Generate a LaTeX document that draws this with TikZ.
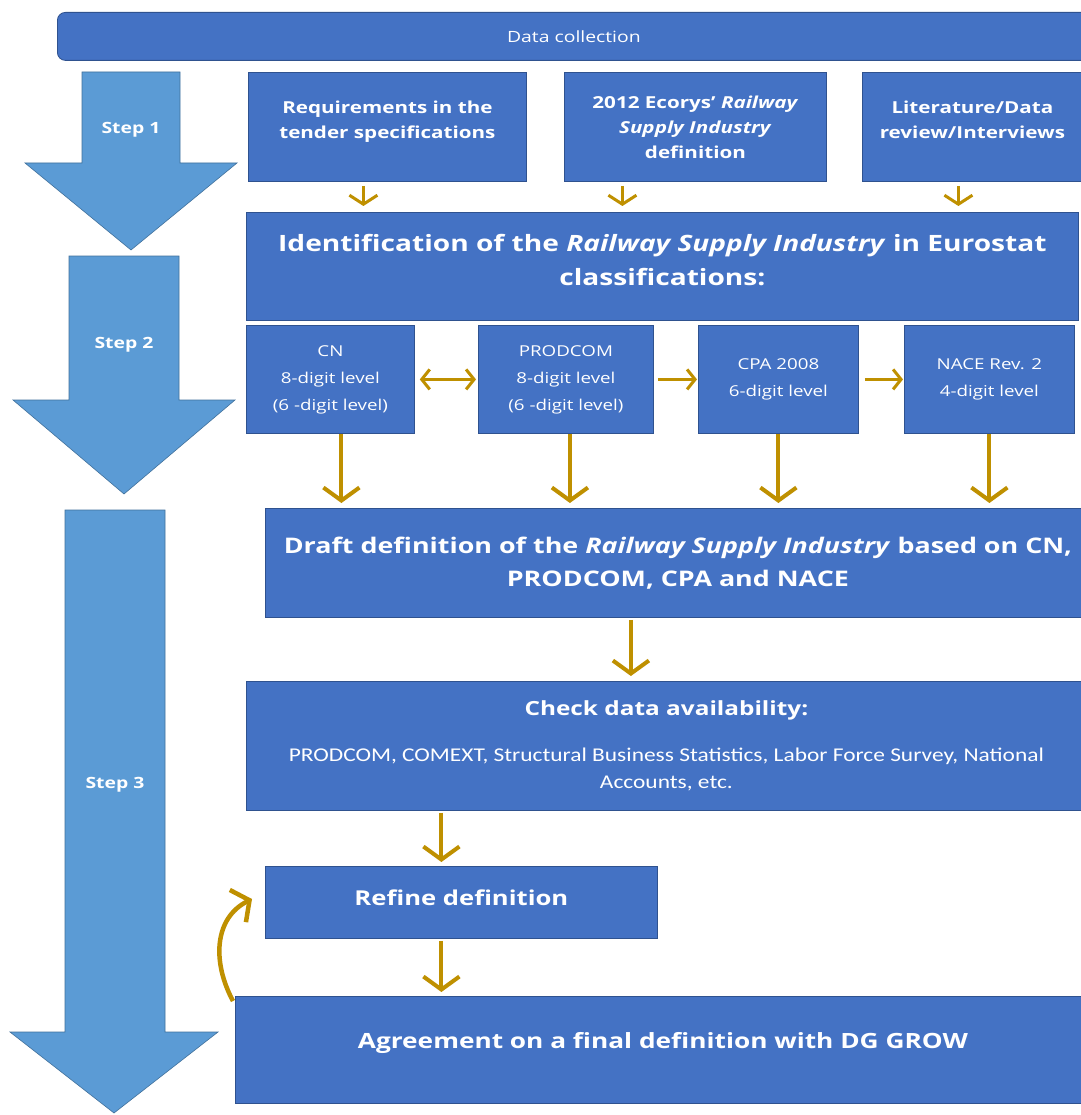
\documentclass[tikz,border=0pt]{standalone}
\usepackage{fontspec}
\setmainfont{Open Sans}[FakeStretch=1.25]
\newfontfamily\carl{Carlito}[FakeStretch=1.2]
\usetikzlibrary{arrows.meta}
\definecolor{boxblue}{HTML}{4472C4}
\definecolor{boxedge}{HTML}{2F528F}
\definecolor{stepblue}{HTML}{5B9BD5}
\definecolor{stepedge}{HTML}{41719C}
\definecolor{gold}{HTML}{BF9000}
\begin{document}
\begin{tikzpicture}[x=1pt,y=-1pt,
  box/.style={draw=boxedge, line width=0.8pt, fill=boxblue, text=white, align=center, anchor=north west, inner sep=2pt},
  stepshape/.style={fill=stepblue, draw=stepedge, line width=0.6pt},
  steplabel/.style={text=white, font=\bfseries\fontsize{15.5}{18}\selectfont},
  flow/.style={draw=gold, line width=4pt, -{Straight Barb[length=13pt,width=36pt]}},
  smallflow/.style={draw=gold, line width=3pt, -{Straight Barb[length=9pt,width=28pt]}},
  sideflow/.style={draw=gold, line width=3pt, -{Straight Barb[length=8pt,width=20pt]}},
  bothflow/.style={draw=gold, line width=3pt, {Straight Barb[length=8pt,width=20pt]}-{Straight Barb[length=8pt,width=20pt]}},
  curveflow/.style={draw=gold, line width=4.5pt, -{Straight Barb[length=13pt,width=36pt]}},
  txtA/.style={font=\bfseries\fontsize{16.5}{25}\selectfont},
  txtB/.style={font=\bfseries\fontsize{21.5}{33}\selectfont},
  txtC/.style={font=\fontsize{15}{27}\selectfont}
]
\useasboundingbox[fill=white] (0,0) rectangle (1080,1115);

% step arrows
\path[stepshape] (82,72) -- (180,72) -- (180,163) -- (237,163) -- (131,250) -- (25,163) -- (82,163) -- cycle;
\node[steplabel] (s1) at (131,130) {Step 1};
\path[stepshape] (69,256) -- (179,256) -- (179,400) -- (235,400) -- (124,494) -- (13,400) -- (69,400) -- cycle;
\node[steplabel] (s2) at (124,345) {Step 2};
\path[stepshape] (65,510) -- (165,510) -- (165,1032) -- (218,1032) -- (114,1113) -- (10,1032) -- (65,1032) -- cycle;
\node[steplabel] (s3) at (115,785) {Step 3};

% boxes
\node[box, rounded corners=8pt, minimum width=1033pt, minimum height=48pt, font=\fontsize{15.5}{18}\selectfont] (dc) at (57,12) {Data collection};
\node[box, txtA, minimum width=278pt, minimum height=109pt] (req) at (248,72) {Requirements in the\\tender specifications\\[-10pt]\mbox{}};
\node[box, txtA, minimum width=262pt, minimum height=109pt] (eco) at (564,72) {2012 Ecorys’ \textit{Railway}\\\textit{Supply Industry}\\definition};
\node[box, txtA, minimum width=220pt, minimum height=109pt] (lit) at (862,72) {Literature/Data\\review/Interviews\\[-10pt]\mbox{}};
\node[box, font=\bfseries\fontsize{22.5}{34}\selectfont, minimum width=832pt, minimum height=108pt] (ident) at (246,212) {Identification of the \textit{Railway Supply Industry} in Eurostat\\classifications:\\[-20pt]\mbox{}};
\node[box, txtC, minimum width=168pt, minimum height=108pt] (cn) at (246,325) {CN\\8-digit level\\(6 -digit level)};
\node[box, txtC, minimum width=175pt, minimum height=108pt] (prod) at (478,325) {PRODCOM\\8-digit level\\(6 -digit level)};
\node[box, txtC, minimum width=160pt, minimum height=108pt] (cpa) at (698,325) {CPA 2008\\6-digit level};
\node[box, txtC, minimum width=170pt, minimum height=108pt] (nace) at (904,325) {NACE Rev. 2\\4-digit level};
\node[box, txtB, minimum width=825pt, minimum height=109pt] (draft) at (265,508) {Draft definition of the \textit{Railway Supply Industry} based on CN,\\PRODCOM, CPA and NACE};
\node[box, font=\carl\fontsize{19.5}{27}\selectfont, minimum width=840pt, minimum height=129pt] (check) at (246,681) {{\rmfamily\bfseries\fontsize{19.5}{22}\selectfont Check data availability:}\\[19pt]PRODCOM, COMEXT, Structural Business Statistics, Labor Force Survey, National\\Accounts, etc.};
\node[box, font=\bfseries\fontsize{20.5}{24}\selectfont, minimum width=392pt, minimum height=72pt] (refine) at (265,866) {Refine definition\\[-14pt]\mbox{}};
\node[box, font=\bfseries\fontsize{21}{24}\selectfont, minimum width=855pt, minimum height=107pt] (agree) at (235,996) {Agreement on a final definition with DG GROW\\[-6pt]\mbox{}};

% connectors
\draw[smallflow, shorten <=4pt, shorten >=6pt] ([xshift=-24pt]req.south) -- ([xshift=-24pt]req.south |- ident.north);
\draw[smallflow, shorten <=4pt, shorten >=6pt] ([xshift=-73pt]eco.south) -- ([xshift=-73pt]eco.south |- ident.north);
\draw[smallflow, shorten <=4pt, shorten >=6pt] ([xshift=-14pt]lit.south) -- ([xshift=-14pt]lit.south |- ident.north);

\draw[bothflow, shorten <=5pt, shorten >=2pt] (cn.east) -- (prod.west);
\draw[sideflow, shorten <=4pt, shorten >=1pt] (prod.east) -- (cpa.west);
\draw[sideflow, shorten <=6pt, shorten >=1pt] (cpa.east) -- (nace.west);

\draw[flow, shorten >=5pt] ([xshift=11pt]cn.south) -- ([xshift=11pt]cn.south |- draft.north);
\draw[flow, shorten >=5pt] ([xshift=4pt]prod.south) -- ([xshift=4pt]prod.south |- draft.north);
\draw[flow, shorten >=5pt] (cpa.south) -- (cpa.south |- draft.north);
\draw[flow, shorten >=5pt] (nace.south) -- (nace.south |- draft.north);

\draw[flow, shorten <=2pt, shorten >=5pt] ([xshift=-47pt]draft.south) -- ([xshift=-47pt]draft.south |- check.north);
\draw[flow, shorten <=2pt, shorten >=4pt] ([xshift=-20pt]refine.north |- check.south) -- ([xshift=-20pt]refine.north);
\draw[flow, shorten <=2pt, shorten >=4pt] ([xshift=-20pt]refine.south) -- ([xshift=-20pt]refine.south |- agree.north);

\coordinate (loopend) at (252,899);
\draw[curveflow] ([xshift=-2pt,yshift=-5pt]agree.north west) .. controls (212,962) and (214,918) .. (loopend);
\end{tikzpicture}
\end{document}
